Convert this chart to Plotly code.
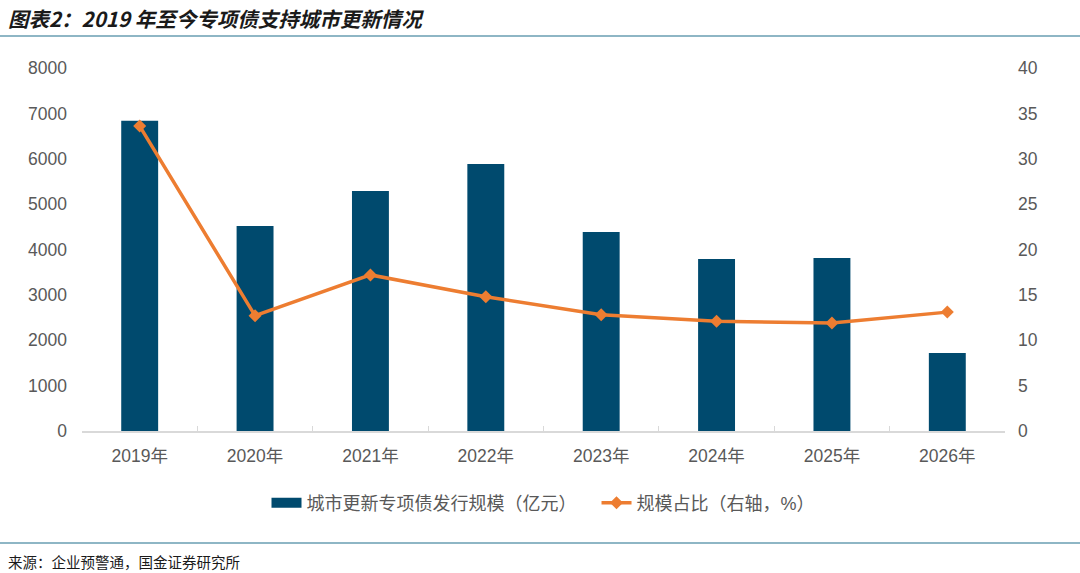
import plotly.graph_objects as go

years = ["2019年", "2020年", "2021年", "2022年", "2023年", "2024年", "2025年", "2026年"]
issuance = [6840, 4520, 5290, 5885, 4385, 3790, 3810, 1720]
share = [33.6, 12.7, 17.2, 14.8, 12.8, 12.1, 11.9, 13.1]

BAR_NAME = "城市更新专项债发行规模（亿元）"
LINE_NAME = "规模占比（右轴，%）"
BAR_COLOR = "#004A6E"
LINE_COLOR = "#ED7D31"

FONT = "Arial, Liberation Sans, Noto Sans CJK SC"
CJK = "Noto Sans CJK SC"
fig = go.Figure()
fig.add_trace(go.Bar(x=years, y=issuance, name=BAR_NAME, showlegend=False,
                     marker=dict(color=BAR_COLOR, line=dict(width=0)), width=0.32))
# legend-only entry to get a wide rectangular swatch
fig.add_trace(go.Scatter(x=[None], y=[None], name=BAR_NAME + "   ", mode="lines",
                         line=dict(color=BAR_COLOR, width=11)))
fig.add_trace(go.Scatter(x=years, y=share, name=LINE_NAME, yaxis="y2",
                         mode="lines+markers",
                         line=dict(color=LINE_COLOR, width=3.5),
                         marker=dict(symbol="diamond", size=10, color=LINE_COLOR)))

tickfont = dict(family=FONT, size=17.5, color="#595959")
fig.update_layout(
    width=1080, height=573,
    margin=dict(l=82, r=75, t=68, b=142),
    plot_bgcolor="white", paper_bgcolor="white",
    font=dict(family=FONT, size=15, color="#595959"),
    showlegend=True,
    legend=dict(orientation="h", x=0.5, xanchor="center", y=-(503 - 431) / 363, yanchor="middle",
                font=dict(family=FONT, size=18, color="#595959")),
    xaxis=dict(showline=True, linecolor="#D9D9D9", linewidth=1.5, ticks="inside",
               tickson="boundaries", tickcolor="#D9D9D9", ticklen=5,
               tickfont=tickfont, showgrid=False, ticklabelstandoff=8),
    yaxis=dict(range=[0, 8000], dtick=1000, showgrid=False, zeroline=False,
               tickfont=tickfont, ticks="", ticklabelstandoff=14),
    yaxis2=dict(range=[0, 40], dtick=5, overlaying="y", side="right", showgrid=False,
                zeroline=False, tickfont=tickfont, ticklabelstandoff=12),
)

fig.add_annotation(text="<i><b>图表2：2019 年至今专项债支持城市更新情况</b></i>", xref="paper", yref="paper",
                   x=-76 / 923, xanchor="left", y=1 + (68 - 18) / 363, yanchor="middle",
                   showarrow=False,
                   font=dict(family=CJK, size=20.5, color="#1a1a1a"))
fig.add_shape(type="line", xref="paper", yref="paper", x0=-82 / 923, x1=(1080 - 82) / 923,
              y0=1 + (68 - 36) / 363, y1=1 + (68 - 36) / 363, line=dict(color="#1F6E8C", width=1.2))
fig.add_shape(type="line", xref="paper", yref="paper", x0=-82 / 923, x1=(1080 - 82) / 923,
              y0=-(543 - 431) / 363, y1=-(543 - 431) / 363, line=dict(color="#1F6E8C", width=1.2))
fig.add_annotation(text="来源：企业预警通，国金证券研究所", xref="paper", yref="paper",
                   x=-76 / 923, xanchor="left", y=-(561 - 431) / 363, yanchor="middle",
                   showarrow=False, font=dict(family=CJK, size=14.5, color="#1a1a1a"))

fig.write_html("out.html")
